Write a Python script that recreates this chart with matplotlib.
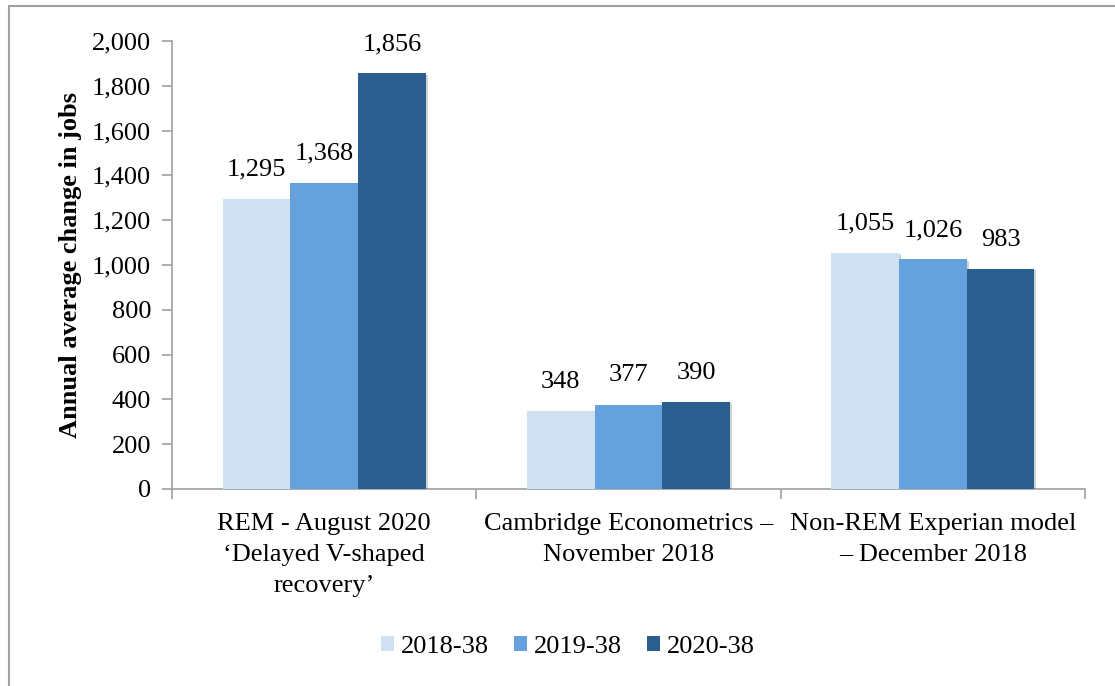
import matplotlib
matplotlib.use("Agg")
import matplotlib.pyplot as plt
import matplotlib.patheffects as pe
import numpy as np
from matplotlib.lines import Line2D
from matplotlib.patches import Patch

categories = ["REM - August 2020\n\u2018Delayed V-shaped\nrecovery\u2019",
              "Cambridge Econometrics \u2013\nNovember 2018",
              "Non-REM Experian model\n\u2013 December 2018"]
series_names = ["2018-38", "2019-38", "2020-38"]
values_2018 = [1295, 348, 1055]
values_2019 = [1368, 377, 1026]
values_2020 = [1856, 390, 983]
series_values = [values_2018, values_2019, values_2020]
colors = ["#CFE0F1", "#65A1DD", "#2A5E8F"]
yticks = [0, 200, 400, 600, 800, 1000, 1200, 1400, 1600, 1800, 2000]

plt.rcParams['font.family'] = ['Liberation Serif', 'DejaVu Serif']

fig = plt.figure(figsize=(11.15, 6.86), dpi=100)
ax = fig.add_axes([0.1543, 0.2872, 0.9731 - 0.1543, 0.9402 - 0.2872])

x = np.arange(len(categories))
w = 1 / 4.5
shadow = [pe.SimplePatchShadow(offset=(1.5, -1.0), shadow_rgbFace="#808080", alpha=0.35), pe.Normal()]
for i, (name, vals, c) in enumerate(zip(series_names, series_values, colors)):
    pos = x + (i - 1) * w
    bars = ax.bar(pos, vals, width=w, color=c, zorder=3)
    for b, v in zip(bars, vals):
        b.set_path_effects(shadow)
        ax.annotate(f"{v:,}", (b.get_x() + b.get_width() / 2, v),
                    xytext=(0, 13), textcoords="offset points",
                    ha="center", va="bottom", fontsize=19)

ax.set_xlim(-0.5, len(categories) - 0.5)
ax.set_ylim(0, 2000)
ax.set_yticks(yticks)
ax.set_yticklabels([f"{t:,}" for t in yticks], fontsize=19)
ax.set_xticks(np.arange(-0.5, len(categories)), minor=False)
ax.set_xticklabels([])
ax.set_xticks(x, minor=True)
ax.set_xticklabels(categories, minor=True, fontsize=19, linespacing=1.55)
ax.tick_params(axis='x', which='minor', length=0, pad=17)
ax.tick_params(axis='x', which='major', length=7, color="#A0A0A0", width=1.2)
ax.tick_params(axis='y', length=7, color="#A0A0A0", width=1.2, pad=8)

for s in ["top", "right"]:
    ax.spines[s].set_visible(False)
for s in ["left", "bottom"]:
    ax.spines[s].set_color("#A0A0A0")
    ax.spines[s].set_linewidth(1.2)

ax.set_ylabel("Annual average change in jobs", fontsize=19, fontweight="bold", labelpad=7)

handles = [Patch(facecolor=c, edgecolor="none") for c in colors]
leg = fig.legend(handles, series_names, loc="center",
                 bbox_to_anchor=(0.5 + 10 / 1115, 1 - 647 / 686), ncol=3,
                 frameon=False, fontsize=19, handlelength=0.5, handleheight=0.5,
                 handletextpad=0.25, columnspacing=0.95)

# figure border (top and left)
fig.add_artist(Line2D([9 / 1115, 1.0], [1 - 6 / 686, 1 - 6 / 686], color="#A0A0A0", lw=1.5,
                      transform=fig.transFigure))
fig.add_artist(Line2D([9 / 1115, 9 / 1115], [0, 1 - 6 / 686], color="#A0A0A0", lw=1.5,
                      transform=fig.transFigure))

fig.savefig("out.png", dpi=100)
